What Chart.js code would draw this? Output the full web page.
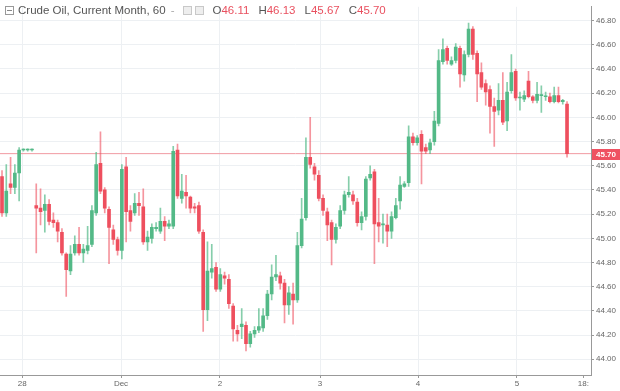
<!DOCTYPE html>
<html>
<head>
<meta charset="utf-8">
<script src="https://cdn.jsdelivr.net/npm/chart.js@4"></script>
<style>
html, body { margin: 0; padding: 0; background: #fff; }
#wrap { position: relative; width: 620px; height: 391px; }
#legend {
    position: absolute; left: 5px; top: 3px;
    font: 11.5px 'Liberation Sans', Arial, sans-serif; color: #555;
    white-space: nowrap; line-height: 14px;
}
#legend .ico { display: inline-block; width: 7px; height: 7px; border: 1px solid #999; vertical-align: -1px; margin-right: 4px; position: relative; }
#legend .ico.minus::after { content: ''; position: absolute; left: 1px; right: 1px; top: 3px; height: 1px; background: #888; }
#legend .dash { color: #aaa; margin-left: 5px; }
#legend .box { display: inline-block; width: 7px; height: 7px; border: 1px solid #c8c8c8; background: #eee; vertical-align: -1px; margin-left: 3px; }
#legend .box.first { margin-left: 8px; }
#legend .v { color: #e9505f; }
#legend .k { margin-left: 9px; }
</style>
</head>
<body>
<div id="wrap">
    <canvas id="chart" width="620" height="391"></canvas>
    <div id="legend"></div>
</div>
<script>
// hourly candles, 28 Nov - 5 Dec
const open = [45.51,45.21,45.45,45.42,45.54,45.73,45.73,45.73,45.27,45.25,
    45.23,45.28,45.15,45.13,45.05,44.87,44.73,44.88,44.95,44.88,
    44.90,44.95,45.21,45.62,45.40,45.24,45.07,44.99,44.90,45.59,
    45.23,45.21,45.29,45.26,44.97,45.00,45.08,45.06,45.14,45.10,
    45.10,45.73,45.33,45.38,45.34,45.26,45.27,45.05,44.41,44.72,
    44.76,44.58,44.69,44.66,44.44,44.24,44.27,44.28,44.13,44.21,
    44.24,44.26,44.36,44.54,44.68,44.69,44.63,44.45,44.54,44.49,
    44.94,45.17,45.67,45.59,45.52,45.33,45.22,45.13,44.99,45.10,
    45.23,45.36,45.36,45.30,45.13,45.18,45.50,45.55,45.13,45.11,
    45.11,45.06,45.17,45.31,45.43,45.46,45.84,45.79,45.86,45.75,
    45.73,45.80,45.95,46.46,46.57,46.44,46.47,46.57,46.35,46.52,
    46.73,46.53,46.37,46.28,46.23,46.09,46.06,46.14,45.97,46.22,
    46.38,46.16,46.15,46.30,46.17,46.14,46.18,46.17,46.17,46.13,
    46.18,46.13,46.11];
const close = [45.21,45.39,45.42,45.54,45.73,45.73,45.73,45.73,45.25,45.22,
    45.28,45.14,45.13,45.06,44.88,44.74,44.87,44.95,44.88,44.91,
    44.94,45.23,45.61,45.39,45.25,45.09,44.99,44.90,45.57,45.22,
    45.14,45.29,45.27,44.97,45.01,45.09,45.09,45.14,45.10,45.12,
    45.72,45.35,45.39,45.35,45.25,45.25,45.06,44.41,44.73,44.75,
    44.58,44.70,44.67,44.46,44.25,44.21,44.29,44.13,44.21,44.24,
    44.27,44.36,44.54,44.68,44.70,44.63,44.45,44.55,44.49,44.94,
    45.16,45.67,45.61,45.53,45.33,45.23,45.11,44.99,45.09,45.23,
    45.36,45.38,45.31,45.13,45.18,45.49,45.53,45.12,45.10,45.12,
    45.06,45.18,45.27,45.44,45.45,45.84,45.79,45.83,45.72,45.72,
    45.79,45.97,46.47,46.56,46.47,46.47,46.58,46.36,46.52,46.73,
    46.52,46.36,46.25,46.21,46.09,46.05,46.14,45.96,46.21,46.37,
    46.16,46.16,46.18,46.17,46.14,46.19,46.185,46.175,46.13,46.18,
    46.13,46.14,45.70];
const high = [45.56,45.61,45.67,45.61,45.75,45.74,45.74,45.74,45.45,45.41,
    45.36,45.32,45.21,45.15,45.08,44.88,44.94,45.02,45.09,44.95,
    45.10,45.27,45.71,45.88,45.42,45.26,45.11,45.01,45.61,45.67,
    45.27,45.37,45.38,45.41,45.06,45.12,45.13,45.25,45.18,45.15,
    45.76,45.78,45.53,45.52,45.35,45.29,45.30,45.07,44.97,44.95,
    44.80,44.75,44.72,44.70,44.46,44.28,44.42,44.31,44.23,44.27,
    44.42,44.42,44.57,44.78,44.86,44.72,44.66,44.60,44.63,45.05,
    45.33,45.83,46.00,45.62,45.56,45.36,45.25,45.15,45.12,45.27,
    45.39,45.51,45.39,45.33,45.22,45.51,45.60,45.57,45.33,45.20,
    45.20,45.22,45.33,45.51,45.47,45.93,45.87,45.85,45.89,45.78,
    45.82,46.05,46.56,46.65,46.59,46.50,46.61,46.59,46.55,46.78,
    46.75,46.55,46.45,46.31,46.26,46.16,46.28,46.37,46.29,46.52,
    46.40,46.21,46.22,46.38,46.18,46.29,46.26,46.21,46.20,46.25,
    46.25,46.15,46.13];
const low = [45.18,45.18,45.37,45.37,45.31,45.72,45.72,45.72,44.88,45.11,
    45.05,45.11,45.09,44.97,44.86,44.52,44.70,44.86,44.86,44.80,
    44.87,44.93,45.19,45.37,45.21,44.79,44.95,44.86,44.83,44.97,
    45.06,45.19,45.19,44.95,44.90,44.96,45.06,45.04,44.98,45.08,
    45.08,45.33,45.29,45.25,45.21,45.21,45.04,44.23,44.32,44.67,
    44.56,44.56,44.62,44.42,44.15,44.15,44.17,44.07,44.10,44.18,
    44.22,44.23,44.33,44.49,44.65,44.58,44.30,44.37,44.29,44.47,
    44.92,45.15,45.58,45.48,45.31,45.19,44.98,44.78,44.96,45.08,
    45.20,45.34,45.28,45.10,45.07,45.15,45.48,44.79,44.97,44.96,
    44.93,45.00,45.16,45.24,45.42,45.43,45.77,45.77,45.45,45.70,
    45.70,45.77,45.93,46.44,46.44,46.43,46.45,46.25,46.30,46.50,
    46.48,46.13,46.23,46.10,45.87,45.76,46.02,45.94,45.89,46.20,
    46.14,46.06,46.13,46.16,46.12,46.12,46.04,46.14,46.12,46.12,
    46.12,46.11,45.67];

// x axis: day labels, placed in candle-index units
const dayTicks = [4.7, 27.8, 50.9, 74.3, 97.2, 120.3, 135.8];
const dayLabels = ['28', 'Dec', '2', '3', '4', '5', '18:'];
const priceTicks = [44.0, 44.2, 44.4, 44.6, 44.8, 45.0, 45.2, 45.4, 45.6, 45.8, 46.0, 46.2, 46.4, 46.6, 46.8];

const UP = '#53b987';
const DOWN = '#ee4f5e';
const last = close.length - 1;

const isUp = close.map((c, i) => c >= open[i]);
const bodyColors = isUp.map(u => u ? UP : DOWN);
const wickColors = isUp.map(u => u ? 'rgba(83,185,135,0.7)' : 'rgba(238,79,94,0.6)');

// legend
const fmt = v => v.toFixed(2);
document.getElementById('legend').innerHTML =
    '<span class="ico minus"></span>Crude Oil, Current Month, 60<span class="dash">-</span>' +
    '<span class="box first"></span><span class="box"></span>' +
    '<span class="k">O<span class="v">' + fmt(open[last]) + '</span></span>' +
    '<span class="k">H<span class="v">' + fmt(high[last]) + '</span></span>' +
    '<span class="k">L<span class="v">' + fmt(low[last]) + '</span></span>' +
    '<span class="k">C<span class="v">' + fmt(close[last]) + '</span></span>';

const priceTag = {
    id: 'priceTag',
    afterDraw(chart) {
        const y = chart.scales.y;
        const py = Math.round(y.getPixelForValue(close[last]));
        const ctx = chart.ctx;
        ctx.save();
        ctx.fillStyle = '#ef5161';
        ctx.fillRect(y.left + 1, py - 5, 29, 11);
        ctx.fillStyle = '#fff';
        ctx.font = 'bold 8px "Liberation Sans", Arial, sans-serif';
        ctx.textBaseline = 'middle';
        ctx.fillText(fmt(close[last]), y.left + 5, py + 0.5);
        ctx.restore();
    }
};

Chart.defaults.font.family = "'Liberation Sans', Arial, sans-serif";

new Chart(document.getElementById('chart'), {
    type: 'bar',
    data: {
        datasets: [
            {
                label: 'body',
                data: open.map((o, i) => ({ x: i, y: [o, close[i]] })),
                backgroundColor: bodyColors,
                barThickness: 3,
                minBarLength: 1,
                grouped: false,
                order: 0
            },
            {
                label: 'wick',
                data: low.map((l, i) => ({ x: i, y: [l, high[i]] })),
                backgroundColor: wickColors,
                barThickness: 1,
                grouped: false,
                order: 1
            },
            {
                type: 'line',
                label: 'last',
                data: [{ x: -2, y: close[last] }, { x: 140, y: close[last] }],
                borderColor: '#f19aa2',
                borderWidth: 1,
                pointRadius: 0,
                order: 2
            }
        ]
    },
    options: {
        responsive: false,
        animation: false,
        layout: { padding: 0 },
        plugins: {
            legend: { display: false },
            tooltip: { enabled: false }
        },
        scales: {
            x: {
                type: 'linear',
                min: -0.47,
                max: 137.6,
                offset: false,
                afterBuildTicks: s => { s.ticks = dayTicks.map(v => ({ value: v })); },
                afterFit: s => { s.height = 16; },
                ticks: {
                    color: '#666',
                    font: { size: 8 },
                    padding: 1,
                    maxRotation: 0,
                    autoSkip: false,
                    callback: (v, i) => dayLabels[i]
                },
                grid: {
                    offset: false,
                    color: c => (c.index === dayTicks.length - 1 ? 'rgba(0,0,0,0)' : '#edf0f3'),
                    tickColor: '#999',
                    tickLength: 3
                },
                border: { color: '#999' }
            },
            y: {
                position: 'right',
                min: 43.87,
                max: 46.914,
                afterBuildTicks: s => { s.ticks = priceTicks.map(v => ({ value: v })); },
                afterFit: s => { s.width = 29; },
                ticks: {
                    color: '#666',
                    font: { size: 8 },
                    padding: 2,
                    callback: v => v.toFixed(2)
                },
                grid: {
                    color: '#edf0f3',
                    tickColor: '#999',
                    tickLength: 3
                },
                border: { color: '#999' }
            }
        }
    },
    plugins: [priceTag]
});
</script>
</body>
</html>
